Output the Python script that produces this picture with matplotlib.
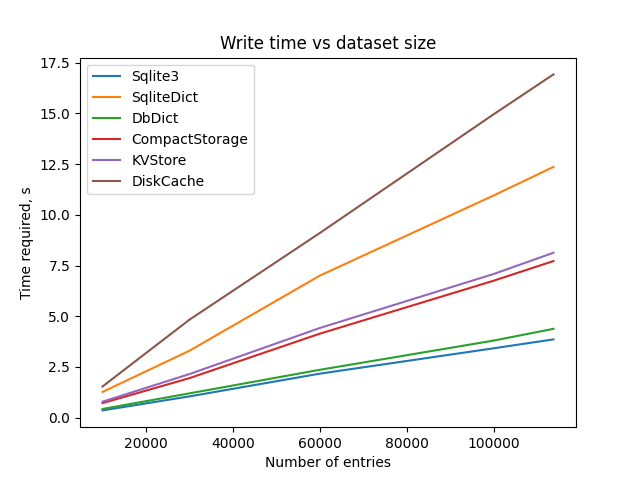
import matplotlib
matplotlib.use('Agg')
import matplotlib.pyplot as plt

# dataset sizes
entries = [10000, 30000, 60000, 100000, 113800]

# write times in seconds
sqlite3 = [0.36, 1.05, 2.17, 3.42, 3.86]
sqlitedict = [1.27, 3.3, 7.0, 10.95, 12.36]
dbdict = [0.43, 1.2, 2.36, 3.8, 4.38]
compact_storage = [0.72, 1.95, 4.14, 6.75, 7.72]
kvstore = [0.79, 2.15, 4.42, 7.08, 8.13]
diskcache = [1.54, 4.83, 9.1, 14.95, 16.92]

fig, ax = plt.subplots(figsize=(6.4, 4.8))
ax.plot(entries, sqlite3, label='Sqlite3')
ax.plot(entries, sqlitedict, label='SqliteDict')
ax.plot(entries, dbdict, label='DbDict')
ax.plot(entries, compact_storage, label='CompactStorage')
ax.plot(entries, kvstore, label='KVStore')
ax.plot(entries, diskcache, label='DiskCache')

ax.set_title('Write time vs dataset size')
ax.set_xlabel('Number of entries')
ax.set_ylabel('Time required, s')
ax.legend()

fig.savefig('out.png', dpi=100)
